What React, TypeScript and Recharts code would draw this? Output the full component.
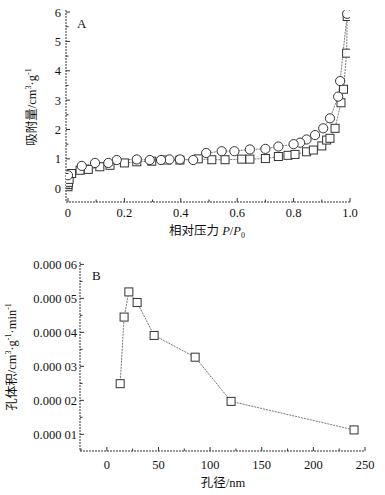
import React from "react";
import { LineChart, Line, XAxis, YAxis } from "recharts";

// panel A: N2 isotherm, relative pressure vs adsorbed volume
const adsP = [0, 0, 0.002, 0.004, 0.013, 0.043, 0.072, 0.113, 0.149, 0.2, 0.244, 0.297, 0.35, 0.397, 0.462, 0.51, 0.557, 0.616, 0.645, 0.7, 0.746, 0.78, 0.805, 0.846, 0.87, 0.9, 0.917, 0.929, 0.947, 0.968, 0.977, 0.988, 0.99];
const adsV = [0.05, 0.12, 0.2, 0.3, 0.5, 0.61, 0.64, 0.73, 0.78, 0.86, 0.9, 0.92, 0.96, 0.96, 1.0, 0.97, 0.97, 0.99, 0.99, 1.01, 1.08, 1.12, 1.15, 1.24, 1.3, 1.44, 1.64, 1.7, 2.04, 2.91, 3.37, 4.6, 5.85];
const desP = [0.99, 0.965, 0.958, 0.929, 0.905, 0.876, 0.846, 0.823, 0.8, 0.746, 0.7, 0.645, 0.59, 0.545, 0.49, 0.444, 0.397, 0.36, 0.33, 0.29, 0.244, 0.173, 0.143, 0.096, 0.049, 0];
const desV = [5.94, 3.65, 3.12, 2.38, 2.04, 1.81, 1.66, 1.55, 1.5, 1.42, 1.34, 1.32, 1.26, 1.26, 1.2, 0.96, 0.98, 0.98, 0.96, 0.96, 0.98, 0.96, 0.86, 0.86, 0.76, 0.44];

const aXTicks = [0, 0.1, 0.2, 0.3, 0.4, 0.5, 0.6, 0.7, 0.8, 0.9, 1.0];
const aXLabels = ["0", "", "0.2", "", "0.4", "", "0.6", "", "0.8", "", "1.0"];
const aYTicks = [0, 0.5, 1, 1.5, 2, 2.5, 3, 3.5, 4, 4.5, 5, 5.5, 6];
const aYLabels = ["0", "", "1", "", "2", "", "3", "", "4", "", "5", "", "6"];

// panel B: pore size distribution
const poreD = [12.9, 16.7, 21.3, 29.3, 45.8, 85.5, 120.3, 239.4];
const poreVol = [0.0000249, 0.0000445, 0.0000519, 0.0000488, 0.0000391, 0.0000327, 0.0000197, 0.0000113];

const bXTicks = [-25, 0, 25, 50, 75, 100, 125, 150, 175, 200, 225, 250];
const bXLabels = ["", "0", "", "50", "", "100", "", "150", "", "200", "", "250"];
const bYTicks = [0.00001, 0.000015, 0.00002, 0.000025, 0.00003, 0.000035, 0.00004, 0.000045, 0.00005, 0.000055, 0.00006];
const bYLabels = ["0.000 01", "", "0.000 02", "", "0.000 03", "", "0.000 04", "", "0.000 05", "", "0.000 06"];

const ads = adsP.map((p, i) => ({ x: p, y: adsV[i] }));
const des = desP.map((p, i) => ({ x: p, y: desV[i] }));
const pore = poreD.map((d, i) => ({ x: d, y: poreVol[i] }));

const FONT = "'Liberation Serif', 'Noto Sans CJK SC', serif";
const INK = "#333";

const findLabel = (ticks: number[], labels: string[], v: number) => {
  const i = ticks.findIndex((t) => Math.abs(t - v) < 1e-9);
  return i >= 0 ? labels[i] : "";
};

const makeYTick = (ticks: number[], labels: string[], gap: number) => (props: any) => {
  const { x, y, payload } = props;
  const lab = findLabel(ticks, labels, payload.value);
  return (
    <g>
      <line x1={x} x2={x + (lab ? 4 : 2.5)} y1={y} y2={y} stroke={INK} />
      {lab && (
        <text x={x - gap} y={y} dy={4.5} textAnchor="end" fontSize={12.5} fontFamily={FONT} fill="#111">
          {lab}
        </text>
      )}
    </g>
  );
};

const makeXTick = (ticks: number[], labels: string[], dy: number) => (props: any) => {
  const { x, y, payload } = props;
  const lab = findLabel(ticks, labels, payload.value);
  return (
    <g>
      <line x1={x} x2={x} y1={y} y2={y - (lab ? 4 : 2.5)} stroke={INK} />
      {lab && (
        <text x={x} y={y + dy} textAnchor="middle" fontSize={12.5} fontFamily={FONT} fill="#111">
          {lab}
        </text>
      )}
    </g>
  );
};

const Square = (props: any) => {
  const { cx, cy } = props;
  if (cx == null || cy == null) return null;
  return <rect x={cx - 4} y={cy - 4} width={8} height={8} fill="#fff" stroke={INK} strokeWidth={1} />;
};

const Ring = (props: any) => {
  const { cx, cy } = props;
  if (cx == null || cy == null) return null;
  return <circle cx={cx} cy={cy} r={4.6} fill="#fff" stroke={INK} strokeWidth={1} />;
};

const axisLine = { stroke: INK, strokeDasharray: "2 1" };

export default function App() {
  return (
    <div style={{ position: "absolute", left: 0, top: 0, width: 385, height: 495, background: "#fff" }}>
      <div style={{ position: "absolute", left: 0, top: 0 }}>
        <LineChart width={385} height={250} margin={{ top: 10, right: 35, left: 26, bottom: 28 }}>
          <XAxis
            type="number"
            dataKey="x"
            domain={[-0.007, 1.0]}
            ticks={aXTicks}
            allowDataOverflow
            interval={0}
            height={20}
            tickSize={0}
            tickMargin={0}
            axisLine={axisLine}
            tickLine={false}
            tick={makeXTick(aXTicks, aXLabels, 14.5)}
          />
          <YAxis
            type="number"
            dataKey="y"
            domain={[-0.47, 6.07]}
            ticks={aYTicks}
            allowDataOverflow
            interval={0}
            width={40}
            tickSize={0}
            tickMargin={0}
            axisLine={axisLine}
            tickLine={false}
            tick={makeYTick(aYTicks, aYLabels, 5)}
          />
          <Line data={ads} dataKey="y" stroke="#777" strokeWidth={1} strokeDasharray="2 1" dot={<Square />} isAnimationActive={false} />
          <Line data={des} dataKey="y" stroke="#777" strokeWidth={1} strokeDasharray="2 1" dot={<Ring />} isAnimationActive={false} />
        </LineChart>
      </div>
      <div style={{ position: "absolute", left: 0, top: 250 }}>
        <LineChart width={385} height={245} margin={{ top: 12, right: 20, left: 40, bottom: 24 }}>
          <XAxis
            type="number"
            dataKey="x"
            domain={[-26, 250]}
            ticks={bXTicks}
            allowDataOverflow
            interval={0}
            height={20}
            tickSize={0}
            tickMargin={0}
            axisLine={axisLine}
            tickLine={false}
            tick={makeXTick(bXTicks, bXLabels, 18)}
          />
          <YAxis
            type="number"
            dataKey="y"
            domain={[0.0000051, 0.0000607]}
            ticks={bYTicks}
            allowDataOverflow
            interval={0}
            width={40}
            tickSize={0}
            tickMargin={0}
            axisLine={axisLine}
            tickLine={false}
            tick={makeYTick(bYTicks, bYLabels, 3)}
          />
          <Line data={pore} dataKey="y" stroke="#777" strokeWidth={1} strokeDasharray="2 1" dot={<Square />} isAnimationActive={false} />
        </LineChart>
      </div>
      <svg width={385} height={495} style={{ position: "absolute", left: 0, top: 0, pointerEvents: "none" }} fontFamily={FONT} fill="#111">
        <text x={77} y={28} fontSize={13}>A</text>
        <text transform="translate(36,107) rotate(-90)" textAnchor="middle" fontSize={12.5}>
          吸附量/cm<tspan dy={-5} fontSize={8}>3</tspan>
          <tspan dy={5}>·g</tspan>
          <tspan dy={-5} fontSize={8}>-1</tspan>
        </text>
        <text x={207} y={235} textAnchor="middle" fontSize={12.5}>
          相对压力 <tspan fontStyle="italic">P</tspan>/<tspan fontStyle="italic">P</tspan>
          <tspan dy={3} fontSize={8}>0</tspan>
        </text>
        <text x={92} y={280} fontSize={13}>B</text>
        <text transform="translate(16,357) rotate(-90)" textAnchor="middle" fontSize={12.5}>
          孔体积/cm<tspan dy={-5} fontSize={8}>3</tspan>
          <tspan dy={5}>·g</tspan>
          <tspan dy={-5} fontSize={8}>-1</tspan>
          <tspan dy={5}>·min</tspan>
          <tspan dy={-5} fontSize={8}>-1</tspan>
        </text>
        <text x={223} y={487} textAnchor="middle" fontSize={12.5}>孔径/nm</text>
      </svg>
    </div>
  );
}
